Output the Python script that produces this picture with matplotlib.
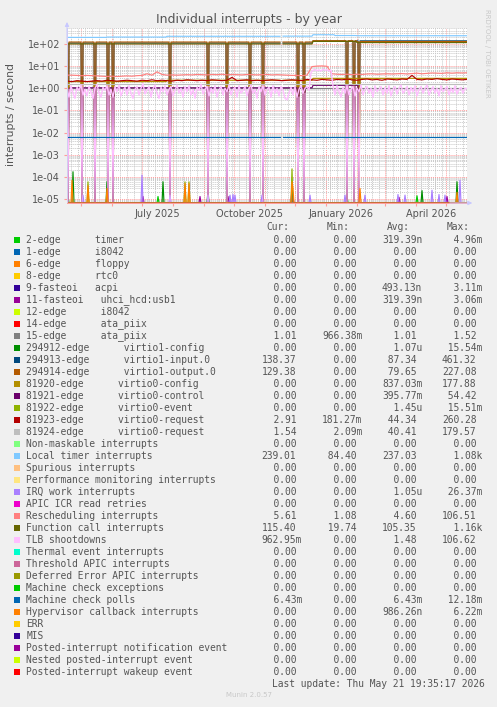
import numpy as np
import matplotlib
matplotlib.use("Agg")
import matplotlib.pyplot as plt
import matplotlib.dates as mdates
from matplotlib.patches import Rectangle
from matplotlib.ticker import LogLocator, NullFormatter, FuncFormatter
from datetime import datetime

W, H = 497, 707

start = datetime(2025, 4, 17)
stop = datetime(2026, 5, 22)
n_days = 400

# days (after start) where the virtio / TLB counters fell to 0 (reboots)
restart_days = [1, 15, 28, 41, 46, 103, 141, 160, 183, 196, 231, 237, 280, 287, 292]
gap_days = [214, 215]

# flat levels: day the level starts, level
loc_days = [0, 40, 100, 215, 246, 268, 290]
loc_vals = [198, 205, 222, 225, 260, 240, 235]
vin_days = [0, 246, 290]
vin_vals = [110, 135, 138]
vout_days = [0, 246, 290]
vout_vals = [122, 140, 129]
cal_days = [0, 246, 290]
cal_vals = [100, 130, 115]
cfg0_days = [0, 100, 246]
cfg0_vals = [2.0, 2.3, 2.8]
ctl0_days = [0, 3, 246, 292]
ctl0_vals = [0.9, 1.05, 1.35, 0.0]
ata_days = [0]
ata_vals = [1.0]
mcp_days = [0]
mcp_vals = [0.0065]
req1_days = [0]
req1_vals = [1.5]

# one value every 5 days
res_vals = [3.9, 3.9, 3.8, 3.7, 3.8, 3.7, 3.6, 3.5, 3.4, 3.5,
            3.4, 3.5, 3.6, 3.5, 3.7, 3.8, 4.5, 3.9, 5.5, 4.2,
            3.9, 4.0, 3.9, 4.0, 4.1, 4.0, 4.2, 4.1, 4.0, 4.2,
            4.1, 4.3, 4.0, 4.2, 4.1, 4.0, 4.2, 4.1, 4.0, 4.1,
            4.2, 4.0, 4.1, 4.0, 3.9, 3.8, 3.8, 3.7, 3.9, 9.5,
            10.0, 10.2, 9.8, 4.5, 4.3, 4.2, 4.3, 4.1, 4.3, 4.2,
            4.4, 4.5, 4.3, 4.4, 4.5, 4.4, 4.5, 4.6, 4.4, 4.6,
            4.8, 4.5, 4.7, 4.9, 4.8, 4.7, 5.0, 4.8, 5.0, 4.9, 5.0]
req0_vals = [2.1, 2.0, 2.2, 2.1, 2.0, 2.1, 2.2, 2.1, 2.3, 2.2,
             2.1, 2.2, 2.3, 2.2, 2.1, 2.3, 2.2, 2.4, 2.2, 2.3,
             2.2, 2.1, 2.3, 2.2, 2.4, 2.3, 2.2, 2.3, 2.2, 2.4,
             2.3, 2.2, 2.3, 3.1, 2.2, 2.3, 2.4, 2.2, 2.3, 2.2,
             2.3, 2.4, 2.3, 2.2, 2.3, 2.4, 2.3, 2.2, 2.5, 2.4,
             2.3, 2.5, 2.4, 2.3, 2.5, 2.4, 2.6, 2.4, 2.3, 2.5,
             2.6, 2.4, 2.5, 2.3, 2.6, 2.5, 2.4, 2.6, 2.5, 3.8,
             2.5, 2.4, 2.6, 2.5, 2.7, 2.5, 2.4, 2.6, 2.5, 2.4, 2.5]
# one value every 2 days
tlb_vals = [0.9, 0.4, 1.3, 0.6, 0.35, 1.1, 0.8, 1.4, 0.5, 0.9,
            0.45, 1.2, 0.7, 0.35, 1.0, 1.5, 0.6, 0.4, 1.1, 0.8,
            1.3, 0.5, 0.9, 0.4, 1.2, 0.7, 1.4, 0.45, 0.8, 1.1,
            0.5, 1.3, 0.6, 0.35, 0.9, 1.2, 0.5, 1.0, 1.6, 0.55,
            0.8, 1.2, 0.4, 0.95, 1.4, 0.6, 0.35, 1.1, 0.7, 1.3,
            0.5, 0.9, 1.2, 0.45, 0.8, 1.4, 0.6, 1.0, 0.4, 1.2,
            0.7, 1.3, 0.5, 0.9, 0.35, 1.1, 0.8, 1.5, 0.55, 0.9,
            1.2, 0.45, 1.0, 0.6, 1.3, 0.4, 0.85, 1.2, 0.5, 1.0,
            0.7, 1.4, 0.5, 0.9, 1.1, 0.4, 1.3, 0.6, 0.8, 1.2,
            0.45, 1.0, 1.4, 0.6, 0.9, 0.35, 1.2, 0.7, 1.3, 0.5,
            0.9, 1.1, 0.4, 1.3, 0.6, 1.0, 0.45, 1.2, 0.8, 0.35,
            0.3, 0.6, 1.1, 0.5, 1.2, 0.4, 0.9, 1.3, 0.6, 1.0,
            1.2, 0.8, 5.0, 6.5, 7.0, 6.2, 6.8, 6.0, 7.2, 6.5,
            6.8, 6.0, 6.6, 1.2, 0.5, 1.3, 0.7, 0.4, 1.1, 0.6,
            1.3, 0.5, 0.9, 1.2, 0.45, 1.0, 0.7, 1.4, 0.5, 0.9,
            1.2, 0.6, 1.0, 0.4, 1.3, 0.7, 0.9, 1.2, 0.5, 1.1,
            0.6, 1.3, 0.45, 0.9, 1.2, 0.55, 1.0, 1.4, 0.6, 0.8,
            1.2, 0.5, 1.1, 0.7, 1.3, 0.45, 0.9, 1.2, 0.6, 1.0,
            1.4, 0.5, 0.8, 1.2, 0.6, 1.0, 0.45, 1.3, 0.7, 0.9,
            1.2, 0.5, 1.0, 0.65, 1.3, 0.55, 0.9, 1.1, 0.6, 1.0, 0.95]

# short bursts near the floor
timer_days = [1, 91, 280, 350]
timer_peaks = [1.3e-5, 1.3e-5, 1.4e-5, 1.4e-5]
acpi_days = [225]
acpi_peaks = [3e-5]
usb_days = [76, 133, 162, 226, 332, 380]
usb_peaks = [1.3e-5, 1.3e-5, 1.3e-5, 1.2e-5, 1.2e-5, 1.3e-5]
cfg1_days = [6, 40, 96, 141, 355, 390]
cfg1_peaks = [1.7e-4, 6e-5, 6e-5, 2.5e-5, 2.4e-5, 6e-5]
evt0_days = [21, 118, 122, 225]
evt0_peaks = [6e-5, 6e-5, 6e-5, 2.3e-4]
iwi_days = [16, 75, 103, 141, 163, 166, 168, 195, 243, 278, 298, 331, 338, 365, 372, 378, 393]
iwi_peaks = [1.5e-5, 1.2e-4, 1.5e-5, 1.5e-5, 1.5e-5, 1.6e-5, 1.5e-5, 1.5e-5, 1.5e-5,
             1.5e-5, 1.5e-5, 1.6e-5, 1.5e-5, 2.5e-5, 1.6e-5, 1.5e-5, 7e-5]
hyp_days = [5, 21, 40, 118, 122, 225, 226, 293, 390]
hyp_peaks = [7e-5, 4e-5, 3e-5, 5e-5, 5e-5, 6e-5, 3e-5, 3e-5, 2e-5]

labels = ["2-edge      timer", "1-edge      i8042", "6-edge      floppy",
          "8-edge      rtc0", "9-fasteoi   acpi", "11-fasteoi   uhci_hcd:usb1",
          "12-edge      i8042", "14-edge      ata_piix", "15-edge      ata_piix",
          "294912-edge      virtio1-config", "294913-edge      virtio1-input.0",
          "294914-edge      virtio1-output.0", "81920-edge      virtio0-config",
          "81921-edge      virtio0-control", "81922-edge      virtio0-event",
          "81923-edge      virtio0-request", "81924-edge      virtio0-request",
          "Non-maskable interrupts", "Local timer interrupts", "Spurious interrupts",
          "Performance monitoring interrupts", "IRQ work interrupts",
          "APIC ICR read retries", "Rescheduling interrupts", "Function call interrupts",
          "TLB shootdowns", "Thermal event interrupts", "Threshold APIC interrupts",
          "Deferred Error APIC interrupts", "Machine check exceptions",
          "Machine check polls", "Hypervisor callback interrupts", "ERR", "MIS",
          "Posted-interrupt notification event", "Nested posted-interrupt event",
          "Posted-interrupt wakeup event"]
colors = ["#00CC00", "#0066B3", "#FF8000", "#FFCC00", "#330099", "#990099",
          "#CCFF00", "#FF0000", "#808080", "#008F00", "#00487D", "#B35A00",
          "#B38F00", "#6B006B", "#8FB300", "#B30000", "#BEBEBE", "#80FF80",
          "#80C9FF", "#FFC080", "#FFE680", "#AA80FF", "#EE00CC", "#FF8080",
          "#666600", "#FFBFFF", "#00FFCC", "#CC6699", "#999900", "#00CC00",
          "#0066B3", "#FF8000", "#FFCC00", "#330099", "#990099", "#CCFF00", "#FF0000"]
cur = ["0.00", "0.00", "0.00", "0.00", "0.00", "0.00", "0.00", "0.00", "1.01",
       "0.00", "138.37", "129.38", "0.00", "0.00", "0.00", "2.91", "1.54", "0.00",
       "239.01", "0.00", "0.00", "0.00", "0.00", "5.61", "115.40", "962.95m",
       "0.00", "0.00", "0.00", "0.00", "6.43m", "0.00", "0.00", "0.00", "0.00",
       "0.00", "0.00"]
mins = ["0.00", "0.00", "0.00", "0.00", "0.00", "0.00", "0.00", "0.00", "966.38m",
        "0.00", "0.00", "0.00", "0.00", "0.00", "0.00", "181.27m", "2.09m", "0.00",
        "84.40", "0.00", "0.00", "0.00", "0.00", "1.08", "19.74", "0.00",
        "0.00", "0.00", "0.00", "0.00", "0.00", "0.00", "0.00", "0.00", "0.00",
        "0.00", "0.00"]
avgs = ["319.39n", "0.00", "0.00", "0.00", "493.13n", "319.39n", "0.00", "0.00", "1.01",
        "1.07u", "87.34", "79.65", "837.03m", "395.77m", "1.45u", "44.34", "40.41", "0.00",
        "237.03", "0.00", "0.00", "1.05u", "0.00", "4.60", "105.35", "1.48",
        "0.00", "0.00", "0.00", "0.00", "6.43m", "986.26n", "0.00", "0.00", "0.00",
        "0.00", "0.00"]
maxs = ["4.96m", "0.00", "0.00", "0.00", "3.11m", "3.06m", "0.00", "0.00", "1.52",
        "15.54m", "461.32", "227.08", "177.88", "54.42", "15.51m", "260.28", "179.57", "0.00",
        "1.08k", "0.00", "0.00", "26.37m", "0.00", "106.51", "1.16k", "106.62",
        "0.00", "0.00", "0.00", "0.00", "12.18m", "6.22m", "0.00", "0.00", "0.00",
        "0.00", "0.00"]

days = np.arange(n_days + 1)
t0 = mdates.date2num(start)
x = t0 + days
ymin, ymax = 10 ** -5.18, 10 ** 2.72


def held(bd, bv):
    idx = np.searchsorted(bd, days, side="right") - 1
    return np.asarray(bv, float)[idx]


def bursts(ed, ev):
    y = np.zeros(len(days))
    y[ed] = ev
    return y


zero = np.zeros(len(days))
vin = held(vin_days, vin_vals)
vout = held(vout_days, vout_vals)
cfg0 = held(cfg0_days, cfg0_vals)
ctl0 = held(ctl0_days, ctl0_vals)
for s in (vin, vout, cfg0, ctl0):
    s[restart_days] = 0
loc = held(loc_days, loc_vals)
cal = held(cal_days, cal_vals)
ata = held(ata_days, ata_vals)
mcp = held(mcp_days, mcp_vals)
req1 = held(req1_days, req1_vals)
for s in (vin, vout, cfg0, ctl0, loc, cal, ata, mcp, req1):
    s[gap_days] = np.nan

res_x = t0 + 5 * np.arange(len(res_vals))
req0_x = t0 + 5 * np.arange(len(req0_vals))
tlb_x = t0 + 2 * np.arange(len(tlb_vals))

series = [
    (x, bursts(timer_days, timer_peaks)), (x, zero), (x, zero), (x, zero),
    (x, bursts(acpi_days, acpi_peaks)), (x, bursts(usb_days, usb_peaks)),
    (x, zero), (x, zero), (x, ata), (x, bursts(cfg1_days, cfg1_peaks)),
    (x, vin), (x, vout), (x, cfg0), (x, ctl0), (x, bursts(evt0_days, evt0_peaks)),
    (req0_x, np.array(req0_vals)), (x, req1), (x, zero), (x, loc), (x, zero),
    (x, zero), (x, bursts(iwi_days, iwi_peaks)), (x, zero), (res_x, np.array(res_vals)),
    (x, cal), (tlb_x, np.array(tlb_vals)), (x, zero), (x, zero), (x, zero), (x, zero),
    (x, mcp), (x, bursts(hyp_days, hyp_peaks)), (x, zero), (x, zero), (x, zero),
    (x, zero), (x, zero),
]

fig = plt.figure(figsize=(W / 100, H / 100), dpi=100, facecolor="#F0F0F0")
ax = fig.add_axes([67 / W, 1 - 203 / H, 400 / W, 175 / H])
ax.set_facecolor("white")

for i, (sx, sy) in enumerate(series):
    lw = 1.0 if labels[i] == "TLB shootdowns" else 0.85
    ax.plot(sx, np.maximum(sy, ymin), color=colors[i], lw=lw)
    if labels[i] == "TLB shootdowns":
        for r in restart_days:
            v = tlb_vals[r // 2]
            ax.plot(t0 + np.array([r - 1, r, r + 1]), [v, ymin, v], color=colors[i], lw=0.75)

ax.set_yscale("log")
ax.set_ylim(ymin, ymax)
ax.set_xlim(t0, t0 + n_days)

ax.yaxis.set_major_locator(LogLocator(base=10, numticks=20))
ax.yaxis.set_minor_locator(LogLocator(base=10, subs=np.arange(2, 10), numticks=20))
ax.yaxis.set_minor_formatter(NullFormatter())
ax.yaxis.set_major_formatter(FuncFormatter(lambda v, p: f"{v:.0e}"))

ax.xaxis.set_major_locator(mdates.MonthLocator())
ax.xaxis.set_major_formatter(NullFormatter())
ax.xaxis.set_minor_locator(mdates.MonthLocator(bymonth=[1, 4, 7, 10], bymonthday=16))
ax.xaxis.set_minor_formatter(mdates.DateFormatter("%B %Y"))

ax.set_axisbelow(True)
ax.grid(which="major", color="#FF9C9C", ls=(0, (1, 1)), lw=0.7)
ax.grid(which="minor", axis="y", color="#C8C8C8", ls=(0, (1, 1)), lw=0.7)
wk = mdates.WeekdayLocator(byweekday=mdates.MO).tick_values(start, stop)
ax.vlines(wk, 0, 1, transform=ax.get_xaxis_transform(), colors="#C8C8C8",
          linestyles=(0, (1, 1)), lw=0.7, zorder=0.5)

ax.tick_params(axis="y", which="major", length=2, color="#FF9C9C", labelsize=7,
               labelcolor="#555555", pad=3)
ax.tick_params(axis="y", which="minor", length=0)
ax.tick_params(axis="x", which="major", length=2, color="#FF9C9C")
ax.tick_params(axis="x", which="minor", length=0, labelsize=7, labelcolor="#555555", pad=4)

for side in ("top", "right"):
    ax.spines[side].set_visible(False)
ax.spines["left"].set_color("#D0D0F0")
ax.spines["bottom"].set_color("#FF9C9C")
ax.spines["left"].set_linewidth(0.7)
ax.spines["bottom"].set_linewidth(0.7)
ax.annotate("", xy=(0, 1.05), xytext=(0, 0.9), xycoords="axes fraction",
            arrowprops=dict(arrowstyle="-|>", color="#C8C8FF", lw=0.7, mutation_scale=6),
            annotation_clip=False)
ax.annotate("", xy=(1.02, 0), xytext=(0.95, 0), xycoords="axes fraction",
            arrowprops=dict(arrowstyle="-|>", color="#C8C8FF", lw=0.7, mutation_scale=6),
            annotation_clip=False)

fig.text(248.5 / W, 1 - 19.5 / H, "Individual interrupts - by year", ha="center",
         va="center", fontsize=9, color="#555555")
fig.text(11 / W, 1 - 115 / H, "interrupts / second", rotation=90, ha="center",
         va="center", fontsize=7.8, color="#555555")
fig.text(487 / W, 1 - 53 / H, "RRDTOOL / TOBI OETIKER", rotation=270, ha="center",
         va="center", fontsize=5, color="#C8C8C8")
fig.text(248.5 / W, 1 - 695 / H, "Munin 2.0.57", ha="center", va="center",
         fontsize=5, color="#C8C8C8")

mono = "DejaVu Sans Mono"
fs = 6.9
for hx, h in zip([266.5, 327, 387, 447], ["Cur:", "Min:", "Avg:", "Max:"]):
    fig.text(hx / W, 1 - 227 / H, h, ha="left", va="center", fontsize=fs,
             family=mono, color="#555555")


def cell(s):
    if s[-1].isalpha():
        return s[:-1].rjust(6) + s[-1]
    return s.rjust(6)


for i, lab in enumerate(labels):
    yc = 240 + 12 * i
    fig.add_artist(Rectangle((14 / W, 1 - (yc + 3) / H), 6 / W, 6 / H,
                             transform=fig.transFigure, facecolor=colors[i],
                             edgecolor="none"))
    fig.text(26.3 / W, 1 - yc / H, lab, ha="left", va="center", fontsize=fs,
             family=mono, color="#555555")
    for cx, col in zip([261.5, 322, 382, 442], [cur, mins, avgs, maxs]):
        fig.text(cx / W, 1 - yc / H, cell(col[i]), ha="left", va="center",
                 fontsize=fs, family=mono, color="#555555")

fig.text(485 / W, 1 - 684 / H, "Last update: Thu May 21 19:35:17 2026", ha="right",
         va="center", fontsize=fs, family=mono, color="#555555")

fig.savefig("out.png", dpi=100, facecolor=fig.get_facecolor())
